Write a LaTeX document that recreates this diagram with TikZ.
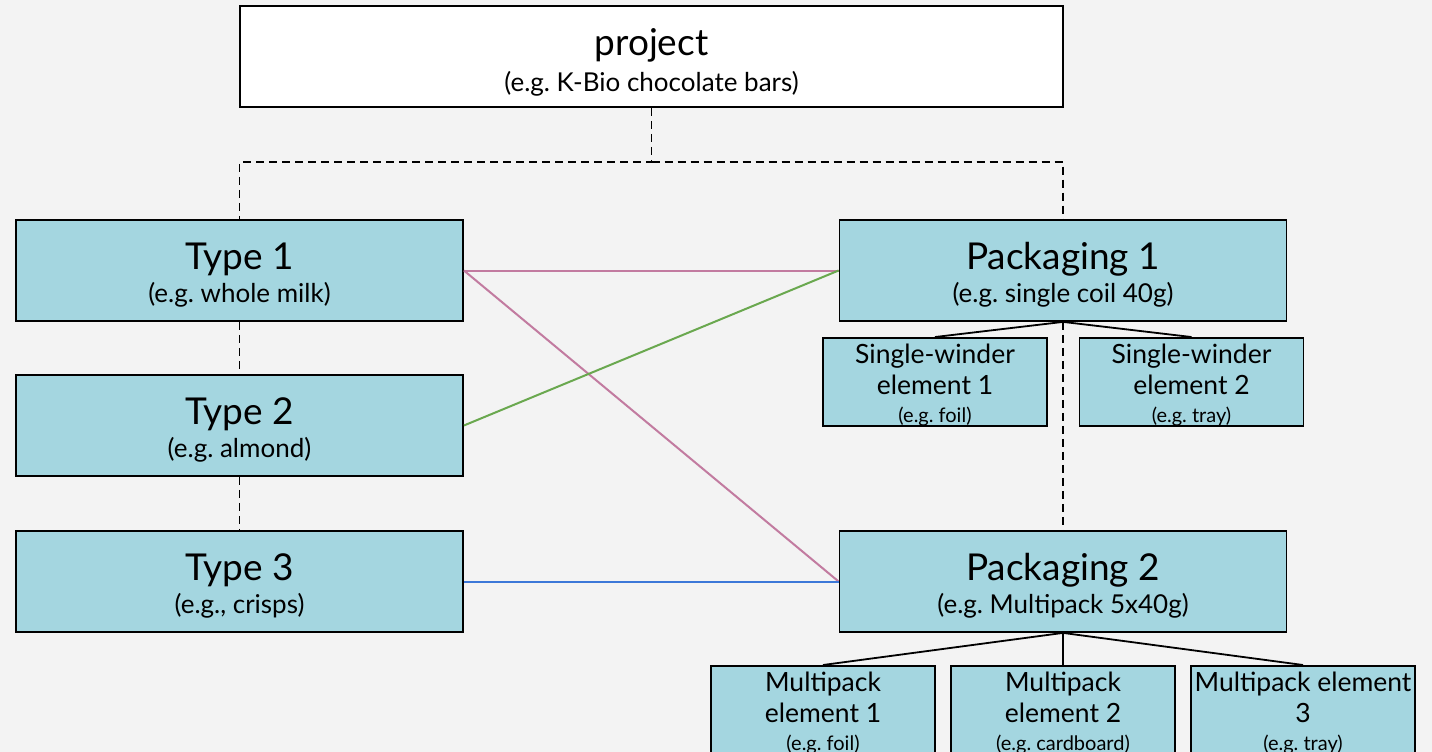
\documentclass[tikz,border=0pt]{standalone}
\usepackage{fontspec}
\setmainfont{Lato}
\definecolor{bg}{HTML}{F3F3F3}
\definecolor{boxfill}{HTML}{A4D6E0}
\definecolor{linepink}{RGB}{194,123,160}
\definecolor{linegreen}{RGB}{106,168,79}
\definecolor{lineblue}{RGB}{60,120,216}
\tikzset{
  big/.style={draw=black, line width=1.8pt, fill=boxfill, minimum width=447pt, minimum height=101pt, inner sep=0pt, align=center, font=\frenchspacing\fontsize{26}{33}\selectfont},
  small/.style={draw=black, line width=1.8pt, fill=boxfill, minimum width=224pt, minimum height=88pt, inner sep=0pt, align=center, font=\frenchspacing\fontsize{26.5}{31}\selectfont},
  eltext/.style={inner sep=0pt, align=center, font=\frenchspacing\fontsize{26.5}{31}\selectfont},
  dashline/.style={line width=1.8pt, dash pattern=on 8pt off 5pt},
  solidline/.style={line width=1.8pt},
  colline/.style={line width=2pt},
}
\newcommand{\fttl}[1]{{\fontsize{37}{40}\selectfont\rule{0pt}{37pt}#1}}
\newcommand{\subdepth}{\rule[-6pt]{0pt}{6pt}}
\newcommand{\fsm}[1]{{\fontsize{20}{24}\selectfont #1}}
\begin{document}
\frenchspacing
\begin{tikzpicture}[x=1pt,y=-1pt]
\fill[bg] (0,0) rectangle (1432,752);
\clip (0,0) rectangle (1432,752);
\useasboundingbox (0,0) rectangle (1432,752);
\node[big, fill=white, minimum width=823pt, font=\frenchspacing\fontsize{26}{36}\selectfont] (proj) at (651.5,56.5) {{\fontsize{37}{40}\selectfont\rule{0pt}{41pt}project}\\(e.g. K-Bio chocolate bars)\subdepth};
\node[big] (t1) at (239.5,270.5) {\fttl{Type 1}\\(e.g. whole milk)\subdepth};
\node[big] (t2) at (239.5,425.5) {\fttl{Type 2}\\(e.g. almond)\subdepth};
\node[big] (t3) at (239.5,581.5) {\fttl{Type 3}\\(e.g., crisps)\subdepth};
\node[big] (p1) at (1063,270.5) {\fttl{Packaging 1}\\(e.g. single coil 40g)\subdepth};
\node[big] (p2) at (1063,581.5) {\fttl{Packaging 2}\\(e.g. Multipack 5x40g)\subdepth};
\node[small] (s1) at (935,382) {\rule{0pt}{25.5pt}Single-winder\\element 1\\[-3pt]\fsm{(e.g. foil)}};
\node[small] (s2) at (1191.5,382) {\rule{0pt}{25.5pt}Single-winder\\element 2\\[-3pt]\fsm{(e.g. tray)}};
\node[small, minimum height=100pt, anchor=north] (m1) at (823,665) {};
\node[small, minimum height=100pt, anchor=north] (m2) at (1063,665) {};
\node[small, minimum height=100pt, anchor=north] (m3) at (1303,665) {};
\node[eltext] (m1t) at (823,713.5) {Multipack\\element 1\\[-3pt]\fsm{(e.g. foil)}};
\node[eltext] (m2t) at (1063,713.5) {Multipack\\element 2\\[-3pt]\fsm{(e.g. cardboard)}};
\node[eltext] (m3t) at (1303,713.5) {Multipack element\\3\\[-3pt]\fsm{(e.g. tray)}};
\coordinate (j) at (651.5,162);
\draw[dashline] (proj.south) -- (j) -| (t1.north);
\draw[dashline] (j) -| (p1.north);
\draw[dashline] (t1.south) -- (t2.north);
\draw[dashline] (t2.south) -- (t3.north);
\draw[dashline] (p1.south) -- (p2.north);
\draw[solidline] (p1.south) -- (s1.north);
\draw[solidline] (p1.south) -- (s2.north);
\draw[solidline] (p2.south) -- (m1.north);
\draw[solidline] (p2.south) -- (m2.north);
\draw[solidline] (p2.south) -- (m3.north);
\draw[colline, draw=linepink] (t1.east) -- (p1.west);
\draw[colline, draw=linepink] (t1.east) -- (p2.west);
\draw[colline, draw=linegreen] (t2.east) -- (p1.west);
\draw[colline, draw=lineblue] (t3.east) -- (p2.west);
\end{tikzpicture}
\end{document}
